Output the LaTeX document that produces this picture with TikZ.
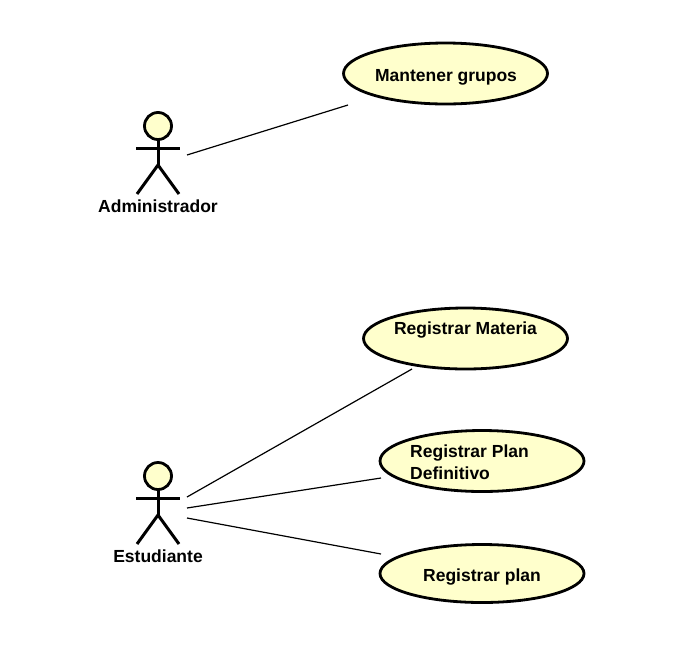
\documentclass[tikz,border=0pt]{standalone}
\usepackage{fontspec}
\setmainfont{Liberation Sans}
\usetikzlibrary{shapes.geometric}
\definecolor{ucfill}{RGB}{255,255,204}
\tikzset{
  usecase/.style={draw=black,fill=ucfill,line width=2.8pt,ellipse,inner sep=0pt,outer sep=0pt,minimum width=#1},
  usecase/.default=204pt,
  txt/.style={font=\fontsize{17.5}{22}\selectfont\bfseries,inner sep=0pt,text=black},
  head/.style={draw=black,fill=ucfill,line width=2.8pt,circle,minimum size=27pt,inner sep=0pt,outer sep=0pt},
  limb/.style={draw=black,line width=3pt},
  assoc/.style={draw=black,line width=1.2pt}
}
\newcommand{\actorfig}[3]{%
  \node[head] (#1) at (#2,#3) {};
  \coordinate (#1arml) at (#2-22,#3+22);
  \coordinate (#1armr) at (#2+22,#3+22);
  \coordinate (#1hip) at (#2,#3+39);
  \coordinate (#1footl) at (#2-21,#3+68);
  \coordinate (#1footr) at (#2+21,#3+68);
  \draw[limb] (#1.south) -- (#1hip);
  \draw[limb] (#1arml) -- (#1armr);
  \draw[limb] (#1footl) -- (#1hip) -- (#1footr);
}
\begin{document}
\begin{tikzpicture}[x=1pt,y=-1pt]
\useasboundingbox (0,0) rectangle (682,646);
\actorfig{adm}{158}{126}
\actorfig{est}{158}{476}
\node[txt] (admlabel) at (158,206) {Administrador};
\node[txt] (estlabel) at (158,556) {Estudiante};

\node[usecase,minimum height=61pt] (mant) at (445.5,73.5) {};
\node[usecase,minimum height=61pt] (mat) at (465.5,338.5) {};
\node[usecase,minimum height=61pt] (def) at (482,461) {};
\node[usecase,minimum height=58pt] (plan) at (482,573.5) {};

\node[txt] (manttext) at (446,77) {Mantener grupos};
\node[txt] (mattext) at (465.5,330.5) {Registrar Materia};
\node[txt,align=left,anchor=west] (deftext) at (410,462.5) {Registrar Plan\\Definitivo};
\node[txt] (plantext) at (482,577.5) {Registrar plan};

\coordinate (admend) at (187,155);
\coordinate (mantend) at (348,105);
\coordinate (est1) at (187,497);
\coordinate (matend) at (412,369);
\coordinate (est2) at (187,508);
\coordinate (defend) at (381,478);
\coordinate (est3) at (187,518);
\coordinate (planend) at (381,554);
\draw[assoc] (admend) -- (mantend);
\draw[assoc] (est1) -- (matend);
\draw[assoc] (est2) -- (defend);
\draw[assoc] (est3) -- (planend);
\end{tikzpicture}
\end{document}
